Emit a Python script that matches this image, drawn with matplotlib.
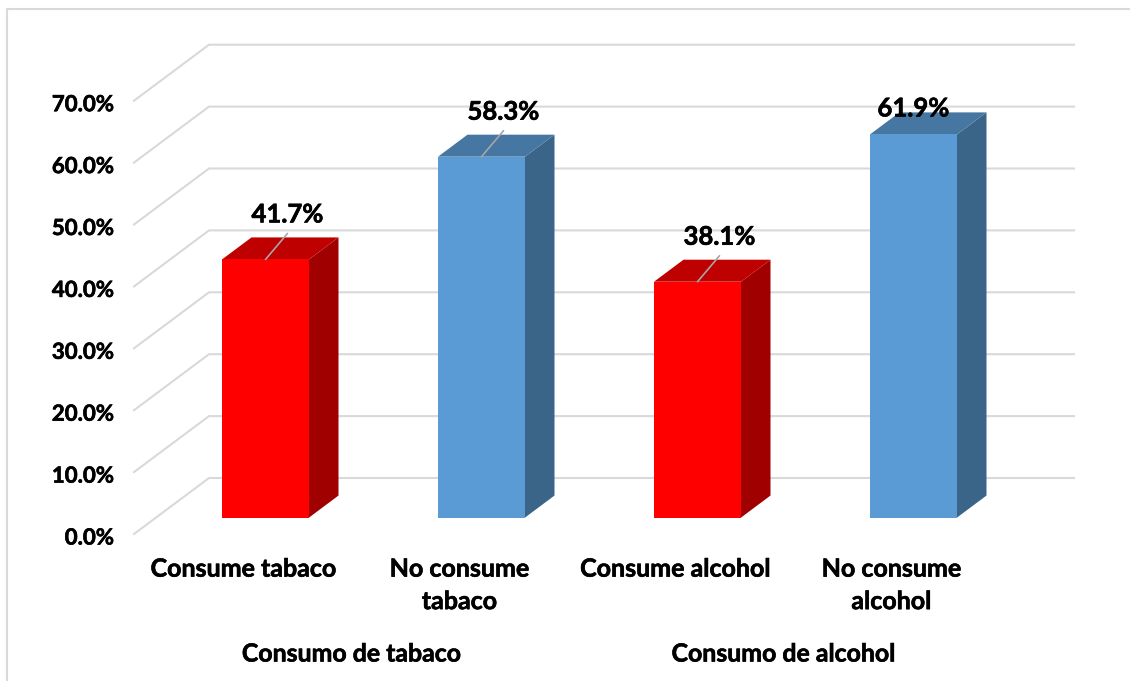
import matplotlib
matplotlib.use("Agg")
import matplotlib.pyplot as plt
import matplotlib.patheffects as pe
from matplotlib.lines import Line2D
from matplotlib.patches import Polygon
from matplotlib.transforms import offset_copy

categories = ["Consume tabaco", "No consume\ntabaco", "Consume alcohol", "No consume\nalcohol"]
values = [41.7, 58.3, 38.1, 61.9]
value_labels = ["41.7%", "58.3%", "38.1%", "61.9%"]
groups = ["Consumo de tabaco", "Consumo de alcohol"]
group_pos = [0.5, 2.5]
y_ticks = [0, 10, 20, 30, 40, 50, 60, 70]
y_labels = ["0.0%", "10.0%", "20.0%", "30.0%", "40.0%", "50.0%", "60.0%", "70.0%"]

W, H = 1130, 681
FONT = "Lato"
GRID = "#D9D9D9"
FRONT = ["#FF0000", "#5B9BD5", "#FF0000", "#5B9BD5"]
TOP = ["#BF0000", "#4676A2", "#BF0000", "#4676A2"]
SIDE = ["#A00000", "#3A6589", "#A00000", "#3A6589"]
HEAVY = [pe.withStroke(linewidth=0.45, foreground="black")]

PX_X, PX_Y = 216.0, 6.19       # pixels per category / per percent
X0, Y0 = 243.5, 534.0          # pixel of category 0, value 0 on front plane
L, R, T, B = 134.0, 1074.0, 44.7, 534.0
DEPTH_X, DEPTH_Y = 75.0 / PX_X, 56.0 / PX_Y
BAR_D0, BAR_D1 = 22.0 / 75.0, 51.5 / 75.0
BAR_W = 87.0 / PX_X

fig = plt.figure(figsize=(W / 100, H / 100), dpi=100, facecolor="white")
ax = fig.add_axes([L / W, 1 - B / H, (R - L) / W, (B - T) / H])
ax.set_xlim((L - X0) / PX_X, (R - X0) / PX_X)
ax.set_ylim(0, (B - T) / PX_Y)
ax.patch.set_alpha(0)
for s in ax.spines.values():
    s.set_visible(False)


def proj(x, y, d):
    return x + d * DEPTH_X, y + d * DEPTH_Y


# back wall and side gridlines
for v in y_ticks:
    a = proj(ax.get_xlim()[0], v, 0)
    b = proj(ax.get_xlim()[0], v, 1)
    c = (ax.get_xlim()[1], b[1])
    ax.plot([a[0], b[0], c[0]], [a[1], b[1], c[1]], color=GRID, lw=1.5,
            solid_joinstyle="miter", zorder=1, clip_on=False)

# 3-D bars
for i, v in enumerate(values):
    x0, x1 = i - BAR_W / 2, i + BAR_W / 2
    front = [proj(x0, 0, BAR_D0), proj(x1, 0, BAR_D0), proj(x1, v, BAR_D0), proj(x0, v, BAR_D0)]
    side = [proj(x1, 0, BAR_D0), proj(x1, 0, BAR_D1), proj(x1, v, BAR_D1), proj(x1, v, BAR_D0)]
    top = [proj(x0, v, BAR_D0), proj(x1, v, BAR_D0), proj(x1, v, BAR_D1), proj(x0, v, BAR_D1)]
    ax.add_patch(Polygon(side, closed=True, fc=SIDE[i], ec="none", zorder=3))
    ax.add_patch(Polygon(top, closed=True, fc=TOP[i], ec="none", zorder=3))
    ax.add_patch(Polygon(front, closed=True, fc=FRONT[i], ec="none", zorder=4))

# data labels with leader lines
for i, (v, lab) in enumerate(zip(values, value_labels)):
    xy = proj(i, v, BAR_D0)
    if i == 3:
        off = (0, 26)
    else:
        off = (22, 45)
        ax.annotate("", xy=xy, xytext=(off[0], off[1] - 19), textcoords="offset pixels",
                    arrowprops=dict(arrowstyle="-", color="#A6A6A6", lw=1.2, shrinkA=0, shrinkB=0),
                    zorder=5)
    ax.annotate(lab, xy=xy, xytext=off, textcoords="offset pixels", ha="center", va="center",
                fontsize=18.5, fontweight="bold", family=FONT, color="black", zorder=6,
                path_effects=HEAVY)

# axes text
ax.set_yticks(y_ticks)
ax.set_yticklabels(y_labels, fontsize=16, fontweight="bold", family=FONT, path_effects=HEAVY)
ax.set_xticks(range(len(categories)))
ax.set_xticklabels(categories, fontsize=18, fontweight="bold", family=FONT, linespacing=1.5,
                   path_effects=HEAVY)
ax.tick_params(axis="y", length=0, pad=14.5)
ax.tick_params(axis="x", length=0, pad=17)
for t in ax.get_yticklabels():
    t.set_transform(offset_copy(t.get_transform(), fig=fig, x=0, y=-2, units="dots"))

# group labels
for p, g in zip(group_pos, groups):
    ax.annotate(g, xy=(p, 0), xycoords=("data", "data"), xytext=(0, -120),
                textcoords="offset pixels", ha="center", va="center",
                fontsize=17.9, fontweight="bold", family=FONT, color="black",
                annotation_clip=False, path_effects=HEAVY)

# chart frame
fig.add_artist(Line2D([7 / W, 7 / W, 1], [0, 1 - 9 / H, 1 - 9 / H], color=GRID, lw=1.5))

fig.savefig("out.png", dpi=100)
